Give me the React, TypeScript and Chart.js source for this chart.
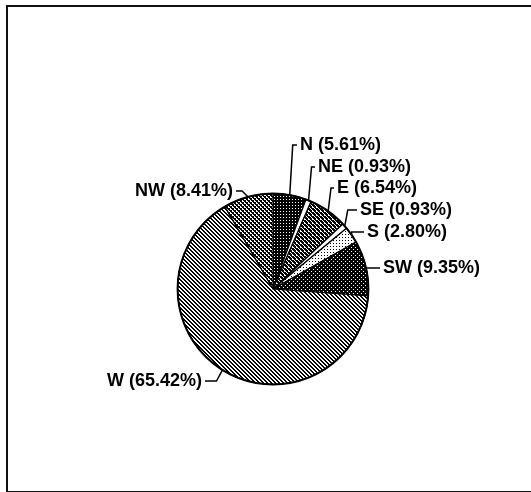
import React, { useEffect, useRef } from "react";
import { Chart, registerables } from "chart.js";

Chart.register(...registerables);

// Wind direction shares (percent), clockwise from north
const directions = ["N", "NE", "E", "SE", "S", "SW", "W", "NW"];
const shares = [5.61, 0.93, 6.54, 0.93, 2.8, 9.35, 65.42, 8.41];

// Label anchor points (text start for right side, text end for left side)
const labelX = [300, 318, 337, 360, 367, 383, 202, 233];
const labelY = [145, 167, 188, 210, 232, 268, 381, 191];
const labelSide = ["r", "r", "r", "r", "r", "r", "l", "l"];

const FONT = "bold 18px 'Liberation Sans', Arial, sans-serif";

type Painter = (c: CanvasRenderingContext2D, s: number) => void;

function tile(size: number, paint: Painter): HTMLCanvasElement {
  const t = document.createElement("canvas");
  t.width = size;
  t.height = size;
  const c = t.getContext("2d")!;
  c.fillStyle = "#fff";
  c.fillRect(0, 0, size, size);
  c.fillStyle = "#000";
  paint(c, size);
  return t;
}

function makeFills(ctx: CanvasRenderingContext2D) {
  const pat = (t: HTMLCanvasElement) => ctx.createPattern(t, "repeat")!;
  // black ground with a white dot per cell
  const dark = tile(3, (c, s) => {
    c.fillRect(0, 0, s, s);
    c.fillStyle = "#fff";
    c.fillRect(1, 1, 1, 1);
  });
  const darker = tile(4, (c, s) => {
    c.fillRect(0, 0, s, s);
    c.fillStyle = "#fff";
    c.fillRect(1, 1, 1, 1);
    c.fillRect(3, 3, 1, 1);
  });
  // diagonal checker grids
  const checker = tile(4, (c) => {
    c.fillRect(0, 0, 2, 2);
    c.fillRect(2, 2, 2, 2);
    c.fillRect(1, 2, 1, 1);
    c.fillRect(3, 0, 1, 1);
  });
  const checkerDense = tile(4, (c) => {
    c.fillRect(0, 0, 2, 2);
    c.fillRect(2, 2, 2, 2);
    c.fillRect(1, 2, 1, 1);
    c.fillRect(3, 0, 1, 1);
    c.fillRect(2, 1, 1, 1);
  });
  const sparseDots = tile(3, (c) => {
    c.fillRect(0, 0, 1, 1);
  });
  // fine diagonal hatch
  const diag = tile(4, (c) => {
    for (let i = 0; i < 4; i++) {
      c.fillRect(i, i, 1, 1);
      c.fillRect((i + 1) % 4, i, 1, 1);
    }
  });
  return [
    pat(dark), // N
    "#ffffff", // NE
    pat(checkerDense), // E
    "#ffffff", // SE
    pat(sparseDots), // S
    pat(darker), // SW
    pat(diag), // W
    pat(checker), // NW
  ];
}

const leaderPlugin = {
  id: "leaders",
  afterDatasetsDraw(chart: any) {
    const ctx: CanvasRenderingContext2D = chart.ctx;
    const meta = chart.getDatasetMeta(0);
    ctx.save();
    ctx.strokeStyle = "#000";
    ctx.fillStyle = "#000";
    ctx.font = FONT;
    ctx.textBaseline = "middle";

    // heavier outer rim
    const first = meta.data[0];
    if (first) {
      const { x, y, outerRadius } = first.getProps(["x", "y", "outerRadius"], true);
      ctx.lineWidth = 2;
      ctx.beginPath();
      ctx.arc(x, y, outerRadius, 0, Math.PI * 2);
      ctx.stroke();
    }

    ctx.lineWidth = 1.5;
    meta.data.forEach((arc: any, i: number) => {
      const { x, y, startAngle, endAngle, outerRadius } = arc.getProps(
        ["x", "y", "startAngle", "endAngle", "outerRadius"],
        true
      );
      const mid = (startAngle + endAngle) / 2;
      const ax = x + Math.cos(mid) * outerRadius;
      const ay = y + Math.sin(mid) * outerRadius;
      const lx = labelX[i];
      const ly = labelY[i];
      const right = labelSide[i] === "r";
      ctx.beginPath();
      ctx.moveTo(ax, ay);
      if (right) {
        const ex = Math.min(ax + 3, lx - 6);
        ctx.lineTo(Math.abs(ay - ly) > 4 ? ex : ax, ly);
        ctx.lineTo(lx - 3, ly);
      } else {
        ctx.lineTo(Math.max(ax - 6, lx + 8), ly);
        ctx.lineTo(lx + 3, ly);
      }
      ctx.stroke();
      const text = `${directions[i]} (${shares[i].toFixed(2)}%)`;
      ctx.textAlign = right ? "left" : "right";
      ctx.fillText(text, lx, ly);
    });
    ctx.restore();
  },
};

export default function App() {
  const ref = useRef<HTMLCanvasElement>(null);

  useEffect(() => {
    const canvas = ref.current!;
    const ctx = canvas.getContext("2d")!;
    const chart = new Chart(canvas, {
      type: "pie",
      data: {
        labels: directions,
        datasets: [
          {
            data: shares,
            backgroundColor: makeFills(ctx) as any,
            borderColor: "#000",
            borderWidth: 1.2,
          },
        ],
      },
      options: {
        responsive: false,
        animation: false,
        events: [],
        layout: { padding: { left: 177, right: 162, top: 193, bottom: 107 } },
        plugins: {
          legend: { display: false },
          tooltip: { enabled: false },
        },
      },
      plugins: [leaderPlugin],
    });
    return () => chart.destroy();
  }, []);

  return (
    <div style={{ position: "absolute", left: 0, top: 0, width: 531, height: 492, background: "#fff" }}>
      <canvas ref={ref} width={531} height={492} style={{ position: "absolute", left: 0, top: 0 }} />
      <div
        style={{
          position: "absolute",
          left: 6,
          top: 5,
          width: 540,
          height: 484,
          borderLeft: "2px solid #111",
          borderTop: "2px solid #111",
          borderBottom: "2px solid #111",
          pointerEvents: "none",
        }}
      />
    </div>
  );
}
